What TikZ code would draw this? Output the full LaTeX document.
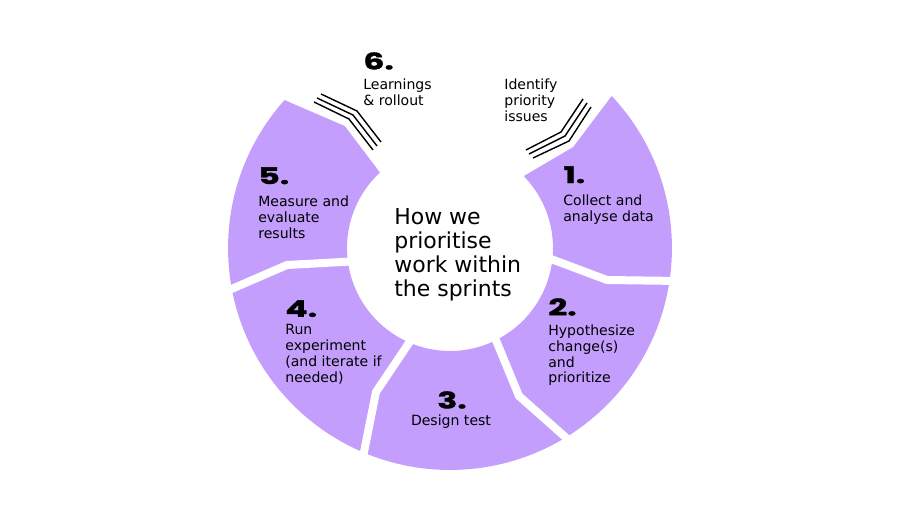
\documentclass[tikz,border=0pt]{standalone}
\usepackage{fontspec}
\setmainfont{DejaVu Sans}
\newfontfamily\numfont[FakeStretch=1.45, FakeBold=1.5]{Poppins}
\usetikzlibrary{positioning}
\definecolor{lavender}{RGB}{196,158,253}

\tikzset{
  steptext/.style={anchor=north west, inner sep=0pt, align=left, font=\fontsize{8}{9.1}\selectfont},
  stepnum/.style={anchor=north west, inner sep=0pt, font=\numfont\bfseries\fontsize{13}{13}\selectfont},
  gapline/.style={white, line width=0.16cm},
  hatch/.style={black, line width=0.8pt}
}

\begin{document}
\begin{tikzpicture}[x=0.02cm, y=-0.02cm]
            \useasboundingbox (0,0) rectangle (900,506);
            \coordinate (c) at (450,248);

            % Ring
            \fill[lavender, even odd rule] (c) circle (4.44cm) (c) circle (2.06cm);
            \fill[white] (229,76) -- (345,126) -- (382,175) -- (c) -- (522,177) -- (573,147) -- (647,49) -- (450,-10) -- cycle;

            % Gaps between the steps
            \draw[gapline] (543,256) -- (607,280) -- (680,281);
            \draw[gapline] (493,333) -- (519,396) -- (572,443);
            \draw[gapline] (415,334) -- (376,392) -- (361,467);
            \draw[gapline] (360,261) -- (287,265) -- (220,294);

            % Hatches
            \draw[hatch] (321,94) -- (357,111) -- (381,142);
            \draw[hatch] (317,98) -- (353,115) -- (377,146);
            \draw[hatch] (314,102) -- (349,119) -- (373,150);
            \draw[hatch] (583,99) -- (561,132) -- (526,150);
            \draw[hatch] (587,103) -- (565,136) -- (529,154);
            \draw[hatch] (591,107) -- (569,141) -- (533,158);

            % Centre
            \node[anchor=north west, inner sep=0pt, align=left, font=\fontsize{12.5}{13.6}\selectfont] (title) at (394,208) {How we\\prioritise\\work within\\the sprints};

            % Steps
            \node[stepnum] (n6) at (363,52) {6.};
            \node[steptext] (t6) at (363,78) {Learnings\\\& rollout};
            \node[steptext] (t6b) at (504,78) {Identify\\priority\\issues};

            \node[stepnum] (n1) at (563,166) {1.};
            \node[steptext] (t1) at (563,194) {Collect and\\analyse data};

            \node[stepnum] (n2) at (548,298) {2.};
            \node[steptext] (t2) at (548,324) {Hypothesize\\change(s)\\and\\prioritize};

            \node[stepnum, anchor=north] (n3) at (452,391) {3.};
            \node[steptext, anchor=north] (t3) at (451,414) {Design test};

            \node[stepnum] (n4) at (285,300) {4.};
            \node[steptext] (t4) at (285,324) {Run\\experiment\\(and iterate if\\needed)};

            \node[stepnum] (n5) at (258,167) {5.};
            \node[steptext] (t5) at (258,195) {Measure and\\evaluate\\results};
        \end{tikzpicture}
\end{document}
